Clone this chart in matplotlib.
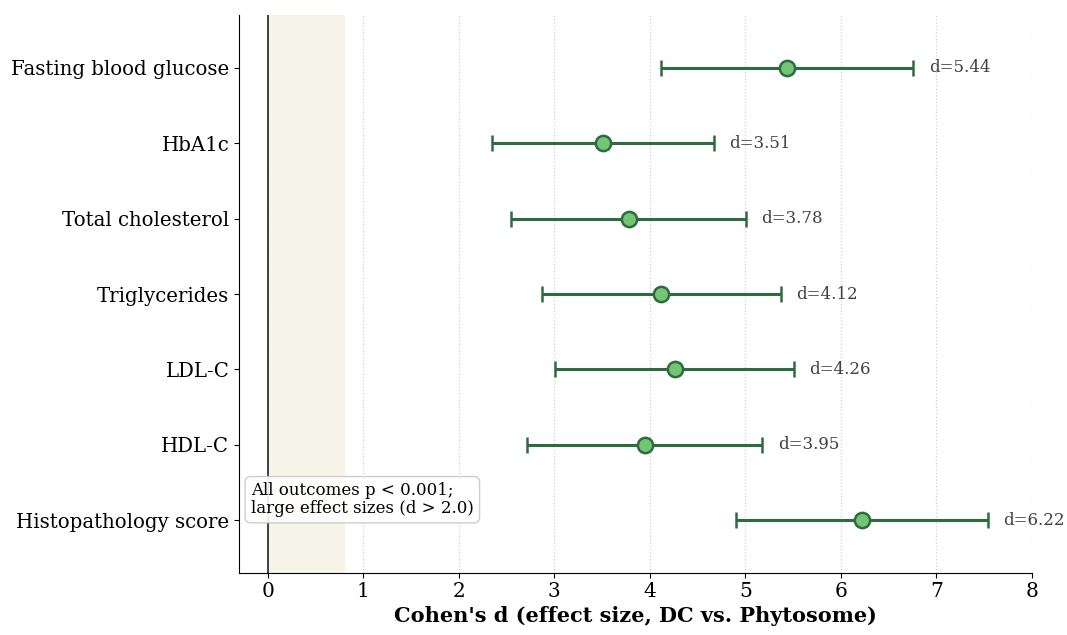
import matplotlib.pyplot as plt

outcomes = ["Fasting blood glucose", "HbA1c", "Total cholesterol", "Triglycerides",
            "LDL-C", "HDL-C", "Histopathology score"]
cohens_d = [5.44, 3.51, 3.78, 4.12, 4.26, 3.95, 6.22]
ci_half = [1.32, 1.16, 1.23, 1.25, 1.25, 1.23, 1.32]

plt.rcParams['font.family'] = 'DejaVu Serif'

fig = plt.figure(figsize=(10.67, 6.35), dpi=100)
ax = fig.add_axes([0.224, 0.098, 0.743, 0.878])

ypos = list(range(len(outcomes)))

ax.axvspan(0, 0.8, color='#f3eedd', alpha=0.6, zorder=0)
ax.axvline(0, color='#333333', lw=1.3, zorder=1)

ax.errorbar(cohens_d, ypos, xerr=ci_half, fmt='o', color='#2e6b3e',
            ecolor='#2e6b3e', elinewidth=2.2, capsize=6, capthick=2,
            markersize=11, markerfacecolor='#74c476', markeredgecolor='#2e6b3e',
            markeredgewidth=1.8, zorder=3)

for y, d, h in zip(ypos, cohens_d, ci_half):
    ax.text(d + h + 0.16, y, f"d={d:.2f}", va='center', ha='left',
            fontsize=12, color='#404040')

ax.set_yticks(ypos)
ax.set_yticklabels(outcomes, fontsize=14.2)
ax.set_ylim(6.7, -0.7)
ax.set_xlim(-0.3, 8)
ax.set_xticks(range(0, 9))
ax.tick_params(axis='x', labelsize=14.5)
ax.set_xlabel("Cohen's d (effect size, DC vs. Phytosome)", fontsize=15,
              fontweight='bold', labelpad=3)
ax.grid(axis='x', linestyle=':', color='#d0d0d0', lw=0.9)
ax.set_axisbelow(True)
ax.spines['top'].set_visible(False)
ax.spines['right'].set_visible(False)

ax.text(0.015, 0.1, "All outcomes p < 0.001;\nlarge effect sizes (d > 2.0)",
        transform=ax.transAxes, fontsize=12, va='bottom', ha='left',
        linespacing=1.05,
        bbox=dict(boxstyle='round,pad=0.35', facecolor='white',
                  edgecolor='#c8c8c8', alpha=0.9), zorder=5)

fig.savefig('out.png', dpi=100)
